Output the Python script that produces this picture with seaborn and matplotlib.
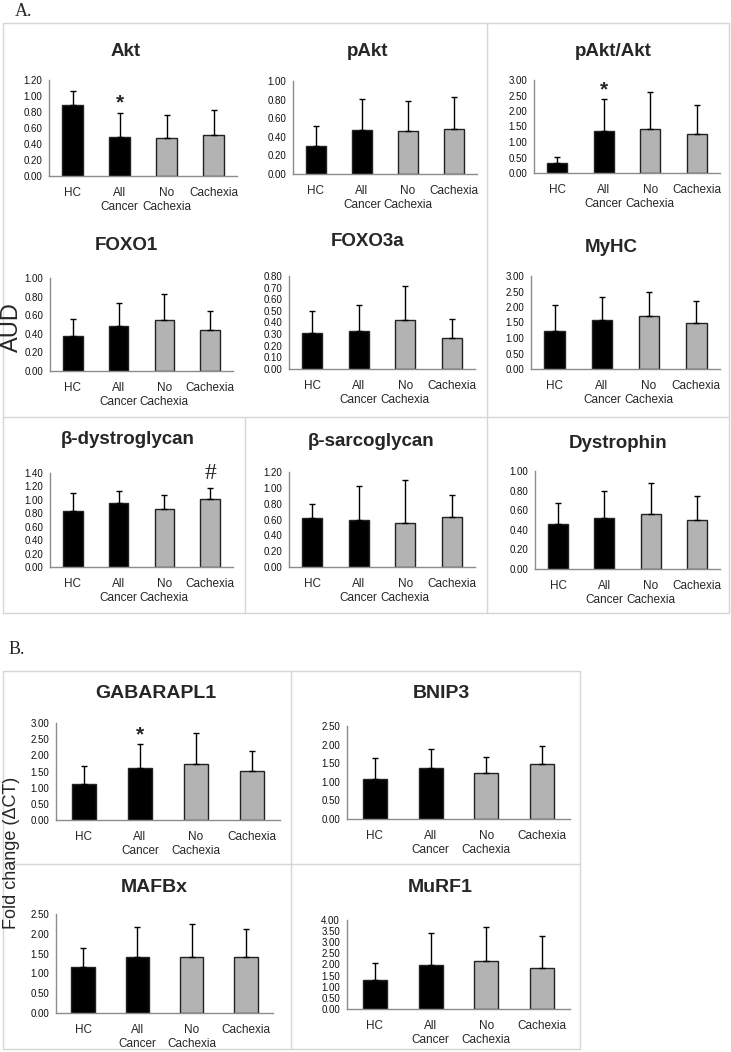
import matplotlib
matplotlib.use("Agg")
import matplotlib.pyplot as plt
import pandas as pd
import seaborn as sns
from matplotlib import ticker
from matplotlib.lines import Line2D

# groups shown on every panel
groups = ["HC", "All\nCancer", "No\nCachexia", "Cachexia"]
bar_colors = ["#000000", "#000000", "#b3b3b3", "#b3b3b3"]

# panel A (AUD), means and upper SD
akt_mean = [0.89, 0.49, 0.47, 0.51]
akt_sd = [0.17, 0.30, 0.29, 0.32]
pakt_mean = [0.30, 0.47, 0.46, 0.48]
pakt_sd = [0.22, 0.34, 0.33, 0.35]
ratio_mean = [0.33, 1.35, 1.43, 1.25]
ratio_sd = [0.20, 1.03, 1.18, 0.93]
foxo1_mean = [0.38, 0.48, 0.55, 0.44]
foxo1_sd = [0.18, 0.25, 0.28, 0.21]
foxo3a_mean = [0.31, 0.33, 0.42, 0.27]
foxo3a_sd = [0.19, 0.22, 0.29, 0.16]
myhc_mean = [1.24, 1.57, 1.72, 1.48]
myhc_sd = [0.81, 0.75, 0.78, 0.70]
bdys_mean = [0.84, 0.95, 0.87, 1.01]
bdys_sd = [0.26, 0.18, 0.20, 0.16]
bsarc_mean = [0.62, 0.60, 0.55, 0.63]
bsarc_sd = [0.17, 0.42, 0.55, 0.28]
dys_mean = [0.46, 0.52, 0.56, 0.50]
dys_sd = [0.21, 0.28, 0.32, 0.25]

# panel B (fold change)
gab_mean = [1.10, 1.60, 1.73, 1.52]
gab_sd = [0.57, 0.75, 0.96, 0.60]
bnip3_mean = [1.08, 1.38, 1.24, 1.47]
bnip3_sd = [0.56, 0.49, 0.43, 0.49]
mafbx_mean = [1.15, 1.41, 1.41, 1.41]
mafbx_sd = [0.50, 0.75, 0.84, 0.70]
murf1_mean = [1.31, 1.96, 2.16, 1.84]
murf1_sd = [0.76, 1.45, 1.54, 1.43]

sns.set_style("white")
plt.rcParams["font.family"] = ["Liberation Sans", "DejaVu Sans"]

W, H = 731, 1052
fig = plt.figure(figsize=(W / 100, H / 100), dpi=100)


def px_rect(l, t, r, b):
    return [l / W, 1 - b / H, (r - l) / W, (b - t) / H]


def fig_line(x0, y0, x1, y1):
    fig.add_artist(Line2D([x0 / W, x1 / W], [1 - y0 / H, 1 - y1 / H],
                          transform=fig.transFigure, color="#d6d6d6", lw=1))


def panel(box, title, title_xy, mean, sd, ymax, step, title_size=13.5, mark=None):
    ax = fig.add_axes(px_rect(*box))
    df = pd.DataFrame({"group": groups, "mean": mean})
    sns.barplot(data=df, x="group", y="mean", hue="group", palette=bar_colors,
                width=0.43, edgecolor="#222222", linewidth=1, legend=False,
                saturation=1, ax=ax)
    ax.errorbar(range(len(groups)), mean, yerr=[[0] * len(sd), sd], fmt="none",
                ecolor="black", elinewidth=1, capsize=2.5, capthick=1)
    ax.set_xlim(-0.5, 3.5)
    ax.set_ylim(0, ymax)
    ax.yaxis.set_major_locator(ticker.MultipleLocator(step))
    ax.yaxis.set_major_formatter("{x:.2f}")
    ax.xaxis.set_minor_locator(ticker.FixedLocator([0.5, 1.5, 2.5, 3.5]))
    ax.set_xlabel("")
    ax.set_ylabel("")
    for side in ["top", "right"]:
        ax.spines[side].set_visible(False)
    for side in ["left", "bottom"]:
        ax.spines[side].set_color("#8c8c8c")
        ax.spines[side].set_linewidth(1)
    ax.tick_params(axis="x", which="major", length=0, labelsize=8.5, pad=8)
    ax.tick_params(axis="x", which="minor", length=4, width=0.8,
                   color="#8c8c8c", direction="out")
    ax.tick_params(axis="y", length=3, width=0.8, color="#8c8c8c",
                   direction="out", labelsize=7, pad=2, labelcolor="#111111")
    fig.text(title_xy[0] / W, 1 - title_xy[1] / H, title, ha="center",
             va="center", fontsize=title_size, fontweight="bold")
    if mark is not None:
        sym, idx = mark
        top = mean[idx] + sd[idx]
        if sym == "*":
            ax.annotate("*", (idx, top), xytext=(0, 0), textcoords="offset points",
                        ha="center", va="bottom", fontsize=15, fontweight="bold")
        else:
            ax.annotate(sym, (idx, top), xytext=(0, 3), textcoords="offset points",
                        ha="center", va="bottom", fontsize=17, family="Liberation Serif")
    return ax


# frames around the sub-panels
fig_line(3, 23, 729, 23)
fig_line(3, 613, 729, 613)
fig_line(3, 23, 3, 613)
fig_line(729, 23, 729, 613)
fig_line(487, 23, 487, 613)
fig_line(3, 417, 729, 417)
fig_line(245, 417, 245, 613)

fig_line(3, 671, 580, 671)
fig_line(3, 1049, 580, 1049)
fig_line(3, 671, 3, 1049)
fig_line(580, 671, 580, 1049)
fig_line(291, 671, 291, 1049)
fig_line(3, 864, 580, 864)

fig.text(15 / W, 1 - 12 / H, "A.", ha="left", va="center", fontsize=13,
         family="Liberation Serif")
fig.text(9 / W, 1 - 650 / H, "B.", ha="left", va="center", fontsize=13,
         family="Liberation Serif")

panel((49, 80, 237, 176), "Akt", (126, 52), akt_mean, akt_sd, 1.2, 0.2, mark=("*", 1))
panel((293, 81, 477, 174), "pAkt", (368, 52), pakt_mean, pakt_sd, 1.0, 0.2)
panel((534, 80, 720, 173), "pAkt/Akt", (613, 52), ratio_mean, ratio_sd, 3.0, 0.5,
      mark=("*", 1))
panel((50, 278, 233, 371), "FOXO1", (126, 245), foxo1_mean, foxo1_sd, 1.0, 0.2)
panel((289, 276, 475, 369), "FOXO3a", (368, 242), foxo3a_mean, foxo3a_sd, 0.8, 0.1)
panel((531, 276, 720, 369), "MyHC", (611, 248), myhc_mean, myhc_sd, 3.0, 0.5)
panel((50, 473, 233, 567), "β-dystroglycan", (128, 439), bdys_mean, bdys_sd, 1.4, 0.2,
      mark=("#", 3))
panel((289, 472, 475, 567), "β-sarcoglycan", (371, 441), bsarc_mean, bsarc_sd, 1.2, 0.2)
panel((535, 471, 720, 569), "Dystrophin", (618, 443), dys_mean, dys_sd, 1.0, 0.2)

panel((56, 723, 280, 820), "GABARAPL1", (156, 693), gab_mean, gab_sd, 3.0, 0.5,
      title_size=14, mark=("*", 1))
panel((347, 726, 570, 819), "BNIP3", (441, 693), bnip3_mean, bnip3_sd, 2.5, 0.5,
      title_size=14)
panel((56, 914, 273, 1013), "MAFBx", (154, 888), mafbx_mean, mafbx_sd, 2.5, 0.5,
      title_size=14)
panel((347, 920, 570, 1009), "MuRF1", (440, 888), murf1_mean, murf1_sd, 4.0, 0.5,
      title_size=14)

fig.text(12 / W, 1 - 327 / H, "AUD", rotation=90, ha="center", va="center",
         fontsize=17)
fig.text(12 / W, 1 - 853 / H, "Fold change (ΔCT)", rotation=90, ha="center",
         va="center", fontsize=13)

fig.savefig("out.png", dpi=100)
